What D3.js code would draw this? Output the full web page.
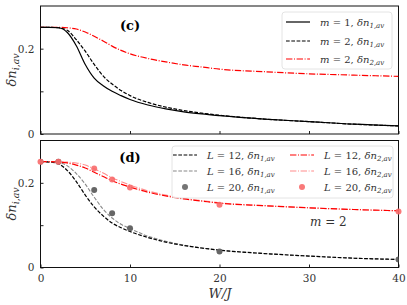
<!DOCTYPE html>
<html>
<head>
<meta charset="utf-8">
<script src="https://cdn.jsdelivr.net/npm/d3@7"></script>
<style>
  body { margin: 0; background: #fff; }
</style>
</head>
<body>
<svg id="chart" width="407" height="305"></svg>
<script>
// W/J grid shared by all curves
const W = [0, 1, 2, 3, 4, 5, 6, 7, 8, 9, 10, 12, 14, 16, 18, 20, 25, 30, 35, 40];

// panel (c)
const m1n1 = [0.25, 0.25, 0.249, 0.238, 0.207, 0.163, 0.131, 0.113, 0.1, 0.09, 0.081, 0.068, 0.059, 0.052, 0.047, 0.043, 0.035, 0.029, 0.023, 0.019];
const m2n1 = [0.25, 0.25, 0.249, 0.243, 0.221, 0.194, 0.163, 0.136, 0.117, 0.102, 0.09, 0.074, 0.063, 0.055, 0.049, 0.044, 0.035, 0.029, 0.023, 0.019];
const m2n2 = [0.25, 0.25, 0.25, 0.249, 0.246, 0.239, 0.229, 0.218, 0.206, 0.196, 0.188, 0.177, 0.169, 0.162, 0.157, 0.152, 0.146, 0.141, 0.138, 0.135];

// panel (d), m = 2
const L12n1 = [0.25, 0.249, 0.245, 0.229, 0.203, 0.171, 0.143, 0.122, 0.105, 0.094, 0.085, 0.071, 0.06, 0.052, 0.046, 0.041, 0.033, 0.027, 0.022, 0.019];
const L16n1 = [0.25, 0.25, 0.248, 0.24, 0.222, 0.197, 0.166, 0.138, 0.117, 0.102, 0.092, 0.074, 0.062, 0.053, 0.046, 0.041, 0.033, 0.027, 0.022, 0.019];
const L12n2 = [0.25, 0.25, 0.249, 0.247, 0.242, 0.235, 0.225, 0.215, 0.205, 0.197, 0.19, 0.178, 0.169, 0.162, 0.157, 0.152, 0.146, 0.141, 0.137, 0.134];
const L16n2 = [0.25, 0.25, 0.25, 0.249, 0.247, 0.242, 0.233, 0.223, 0.212, 0.203, 0.195, 0.181, 0.171, 0.163, 0.158, 0.153, 0.146, 0.141, 0.137, 0.134];
const W20 = [0, 2, 6, 8, 10, 20, 40];
const L20n1 = [0.25, 0.25, 0.183, 0.128, 0.093, 0.038, 0.019];
const L20n2 = [0.25, 0.25, 0.234, 0.208, 0.189, 0.148, 0.132];

const yTicks = [0, 0.1, 0.2];
const xTicks = [0, 10, 20, 30, 40];

const FONT = "'DejaVu Serif', serif";
const svg = d3.select("#chart").attr("font-family", FONT);
const x = d3.scaleLinear().domain([0, 40]).range([40.5, 398.5]);
const yC = d3.scaleLinear().domain([0, 0.3]).range([134, 6]);
const yD = d3.scaleLinear().domain([0, 0.3]).range([267.5, 140.5]);

const DASH = "3.7,1.6", DASHDOT = "6.4,1.6,1,1.6";

function panel(y, showXLabels, clipId) {
  const g = svg.append("g");
  svg.append("clipPath").attr("id", clipId).append("rect")
    .attr("x", x.range()[0]).attr("y", y.range()[1])
    .attr("width", x.range()[1] - x.range()[0]).attr("height", y.range()[0] - y.range()[1]);

  g.append("g").attr("transform", `translate(0,${y.range()[0]})`)
    .call(d3.axisBottom(x).tickValues(xTicks).tickSizeInner(-3).tickSizeOuter(0).tickPadding(7)
      .tickFormat(showXLabels ? d3.format("d") : () => ""));
  g.append("g").attr("transform", `translate(${x.range()[0]},0)`)
    .call(d3.axisLeft(y).tickValues(yTicks).tickSizeInner(-3).tickSizeOuter(0).tickPadding(6)
      .tickFormat(d => d === 0.1 ? "" : d3.format("~g")(d)));
  g.selectAll("g").attr("font-family", FONT);
  g.selectAll(".domain").remove();
  g.selectAll(".tick line").attr("stroke", "#222");
  g.selectAll(".tick text").attr("font-size", 10.5).attr("fill", "#333");

  g.append("rect")
    .attr("x", x.range()[0]).attr("y", y.range()[1])
    .attr("width", x.range()[1] - x.range()[0]).attr("height", y.range()[0] - y.range()[1])
    .attr("fill", "none").attr("stroke", "#111").attr("stroke-width", 1);

  return svg.append("g").attr("clip-path", `url(#${clipId})`);
}

function curve(plot, y, vals, color, dash, width) {
  const line = d3.line().x((d, i) => x(W[i])).y(d => y(d)).curve(d3.curveMonotoneX);
  plot.append("path").datum(vals).attr("d", line)
    .attr("fill", "none").attr("stroke", color).attr("stroke-width", width || 1.2)
    .attr("stroke-dasharray", dash);
}

// ---------- panel (c)
const pc = panel(yC, false, "clipC");
curve(pc, yC, m2n2, "#ff0000", DASHDOT);
curve(pc, yC, m1n1, "#000", null);
curve(pc, yC, m2n1, "#000", DASH);

// ---------- panel (d)
const pd = panel(yD, true, "clipD");
curve(pd, yD, L16n1, "#888", DASH, 1.1);
curve(pd, yD, L12n1, "#000", DASH);
curve(pd, yD, L16n2, "#ff8c8c", DASHDOT, 1.1);
curve(pd, yD, L12n2, "#ff0000", DASHDOT);
pd.selectAll(".d1").data(W20).join("circle").attr("class", "d1")
  .attr("cx", d => x(d)).attr("cy", (d, i) => yD(L20n1[i])).attr("r", 3).attr("fill", "#666");
svg.selectAll(".d2").data(W20).join("circle").attr("class", "d2")
  .attr("cx", d => x(d)).attr("cy", (d, i) => yD(L20n2[i])).attr("r", 3).attr("fill", "#f86a6a").attr("opacity", 0.9);

// ---------- legends
function legend(x0, y0, w, h, items) {
  const g = svg.append("g");
  g.append("rect").attr("x", x0).attr("y", y0).attr("width", w).attr("height", h).attr("rx", 3)
    .attr("fill", "#fff").attr("fill-opacity", 0.85).attr("stroke", "#ddd").attr("stroke-width", 0.8);
  items.forEach(it => {
    if (it.dot) {
      g.append("circle").attr("cx", it.lx + 12).attr("cy", it.ly).attr("r", 3).attr("fill", it.color).attr("opacity", 0.9);
    } else {
      g.append("line").attr("x1", it.lx).attr("x2", it.lx + 24).attr("y1", it.ly).attr("y2", it.ly)
        .attr("stroke", it.color).attr("stroke-width", it.w || 1.2).attr("stroke-dasharray", it.dash);
    }
    const t = g.append("text").attr("x", it.lx + 34).attr("y", it.ly + 3.5).attr("font-size", 10).attr("fill", "#333");
    t.append("tspan").attr("font-style", "italic").text(it.a);
    t.append("tspan").text(" = " + it.b + ", ");
    t.append("tspan").attr("font-style", "italic").text("δn");
    t.append("tspan").attr("font-size", "0.7em").attr("dy", "0.3em").attr("font-style", "italic").text(it.s);
  });
}

legend(282, 12, 110, 57, [
  { lx: 286, ly: 22, color: "#000", a: "m", b: "1", s: "1,av" },
  { lx: 286, ly: 41, color: "#000", dash: DASH, a: "m", b: "2", s: "1,av" },
  { lx: 286, ly: 59, color: "#ff0000", dash: DASHDOT, a: "m", b: "2", s: "2,av" }
]);

legend(172, 146, 221, 52, [
  { lx: 173, ly: 155, color: "#000", dash: DASH, a: "L", b: "12", s: "1,av" },
  { lx: 173, ly: 171, color: "#888", dash: DASH, w: 1.1, a: "L", b: "16", s: "1,av" },
  { lx: 173, ly: 187, color: "#666", dot: true, a: "L", b: "20", s: "1,av" },
  { lx: 290, ly: 155, color: "#ff0000", dash: DASHDOT, a: "L", b: "12", s: "2,av" },
  { lx: 290, ly: 171, color: "#ff8c8c", dash: DASHDOT, w: 1.1, a: "L", b: "16", s: "2,av" },
  { lx: 290, ly: 187, color: "#f86a6a", dot: true, a: "L", b: "20", s: "2,av" }
]);

// ---------- panel labels and axis titles
svg.append("text").attr("x", 130).attr("y", 30).attr("text-anchor", "middle")
  .attr("font-size", 13).attr("font-weight", "bold").text("(c)");
svg.append("text").attr("x", 130).attr("y", 162).attr("text-anchor", "middle")
  .attr("font-size", 13).attr("font-weight", "bold").text("(d)");

const m2 = svg.append("text").attr("x", 310).attr("y", 226).attr("font-size", 12).attr("fill", "#333");
m2.append("tspan").attr("font-style", "italic").text("m");
m2.append("tspan").text(" = 2");

[yC, yD].forEach(y => {
  const cy = (y.range()[0] + y.range()[1]) / 2;
  const t = svg.append("text").attr("transform", `translate(16,${cy}) rotate(-90)`)
    .attr("text-anchor", "middle").attr("font-size", 13).attr("fill", "#333");
  t.append("tspan").attr("font-style", "italic").text("δn");
  t.append("tspan").attr("font-size", "0.72em").attr("dy", "0.3em").attr("font-style", "italic").text("i,av");
});

svg.append("text").attr("x", 220).attr("y", 298).attr("text-anchor", "middle")
  .attr("font-size", 13).attr("fill", "#333").attr("font-style", "italic").text("W/J");
</script>
</body>
</html>
